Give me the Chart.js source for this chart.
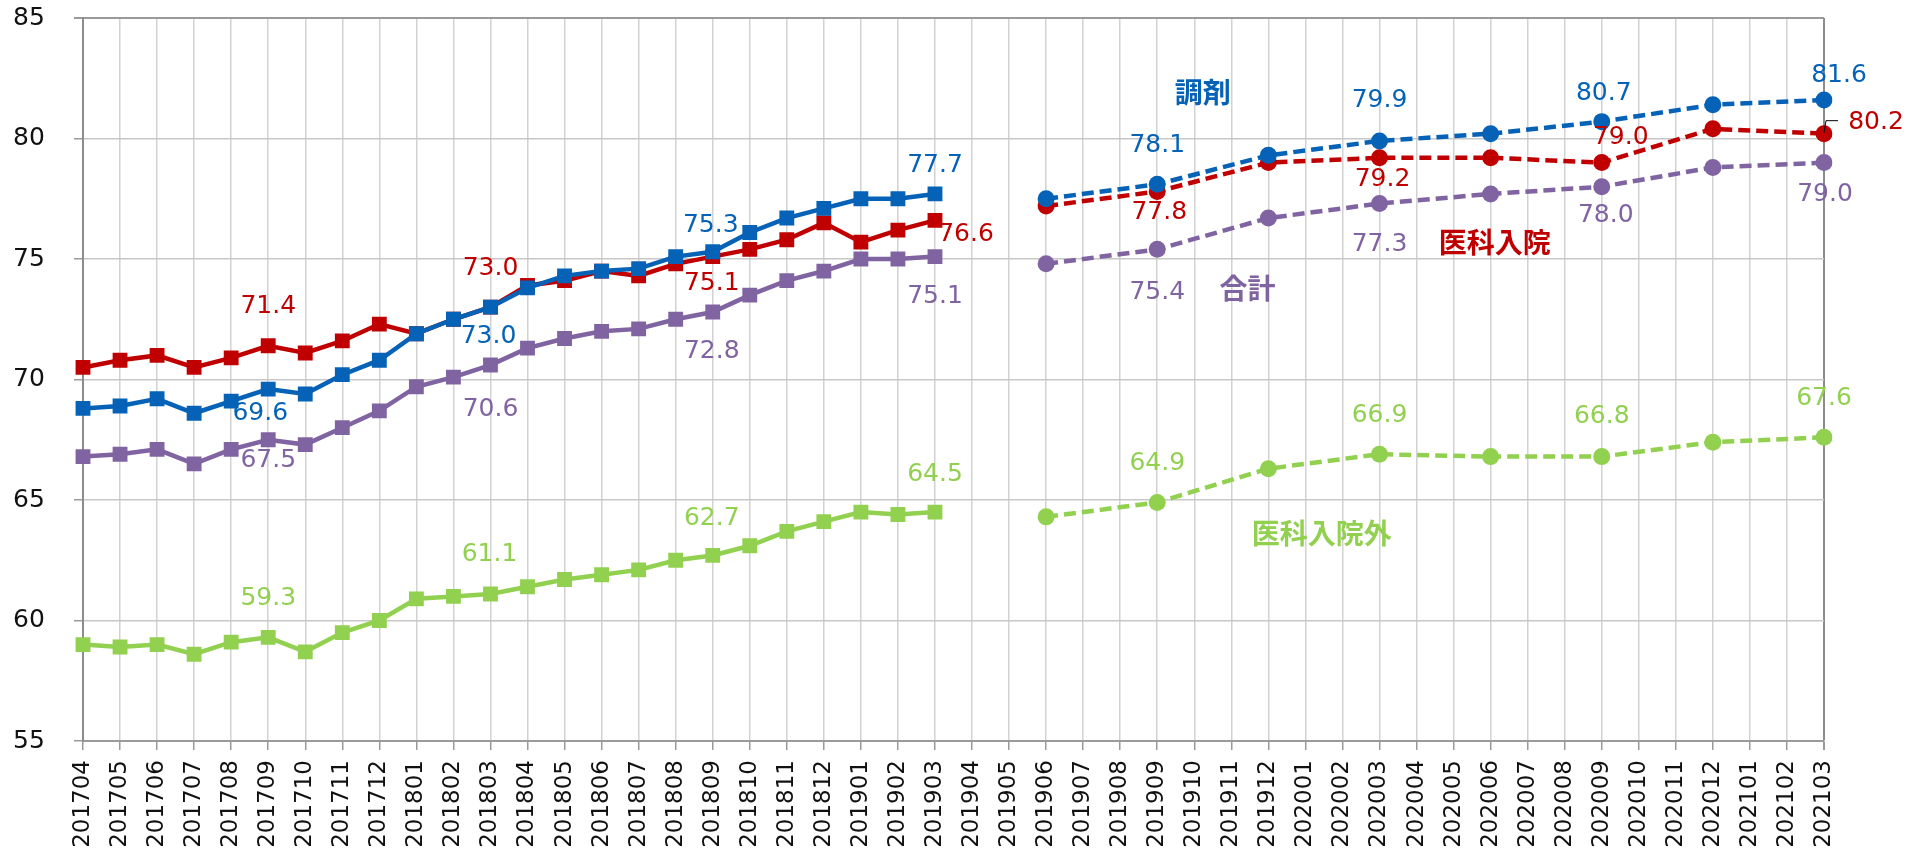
<!DOCTYPE html>
<html lang="ja">
<head>
<meta charset="utf-8">
<title>調剤・医科入院・医科入院外・合計</title>
<script src="https://cdn.jsdelivr.net/npm/chart.js@4/dist/chart.umd.min.js"></script>
<style>
  html, body { margin: 0; padding: 0; background: #fff; }
  #wrap { width: 1920px; height: 849px; position: relative; }
</style>
</head>
<body>
<div id="wrap"><canvas id="grafico"></canvas></div>
<script>
// ---- datos ----
const categories = [
  '201704','201705','201706','201707','201708','201709','201710','201711','201712',
  '201801','201802','201803','201804','201805','201806','201807','201808','201809',
  '201810','201811','201812','201901','201902','201903','201904','201905','201906',
  '201907','201908','201909','201910','201911','201912','202001','202002','202003',
  '202004','202005','202006','202007','202008','202009','202010','202011','202012',
  '202101','202102','202103'
];
const yTicks = [55, 60, 65, 70, 75, 80, 85];

// monthly series, 201704 .. 201903
const chozaiMonthly = [68.8, 68.9, 69.2, 68.6, 69.1, 69.6, 69.4, 70.2, 70.8, 71.9, 72.5, 73.0,
                       73.8, 74.3, 74.5, 74.6, 75.1, 75.3, 76.1, 76.7, 77.1, 77.5, 77.5, 77.7];
const nyuinMonthly  = [70.5, 70.8, 71.0, 70.5, 70.9, 71.4, 71.1, 71.6, 72.3, 71.9, 72.5, 73.0,
                       73.9, 74.1, 74.5, 74.3, 74.8, 75.1, 75.4, 75.8, 76.5, 75.7, 76.2, 76.6];
const goukeiMonthly = [66.8, 66.9, 67.1, 66.5, 67.1, 67.5, 67.3, 68.0, 68.7, 69.7, 70.1, 70.6,
                       71.3, 71.7, 72.0, 72.1, 72.5, 72.8, 73.5, 74.1, 74.5, 75.0, 75.0, 75.1];
const gairaiMonthly = [59.0, 58.9, 59.0, 58.6, 59.1, 59.3, 58.7, 59.5, 60.0, 60.9, 61.0, 61.1,
                       61.4, 61.7, 61.9, 62.1, 62.5, 62.7, 63.1, 63.7, 64.1, 64.5, 64.4, 64.5];

// quarterly series
const quarterMonths    = ['201906','201909','201912','202003','202006','202009','202012','202103'];
const chozaiQuarterly  = [77.5, 78.1, 79.3, 79.9, 80.2, 80.7, 81.4, 81.6];
const nyuinQuarterly   = [77.2, 77.8, 79.0, 79.2, 79.2, 79.0, 80.4, 80.2];
const goukeiQuarterly  = [74.8, 75.4, 76.7, 77.3, 77.7, 78.0, 78.8, 79.0];
const gairaiQuarterly  = [64.3, 64.9, 66.3, 66.9, 66.8, 66.8, 67.4, 67.6];

// months that carry a value label
const labelMonths = ['201709','201803','201809','201903','201909','202003','202009','202103'];

// ---- estilo ----
const SERIES = [
  { name: '調剤',       color: '#0562B6', monthly: chozaiMonthly, quarterly: chozaiQuarterly,
    offsets: [[-8,24],[-2,29],[-2,-26],[0,-28],[0,-39],[0,-40],[2,-28],[15,-24]] },
  { name: '医科入院',   color: '#C00000', monthly: nyuinMonthly,  quarterly: nyuinQuarterly,
    offsets: [[0,-39],[0,-39],[-1,27],[31,14],[2,21],[3,22],[19,-25],[52,-11]] },
  { name: '合計',       color: '#8064A2', monthly: goukeiMonthly, quarterly: goukeiQuarterly,
    offsets: [[0,21],[0,44],[-1,39],[0,40],[0,43],[0,41],[4,29],[1,32]] },
  { name: '医科入院外', color: '#92D050', monthly: gairaiMonthly, quarterly: gairaiQuarterly,
    offsets: [[0,-39],[-1,-39],[-1,-37],[0,-38],[0,-39],[0,-39],[0,-40],[0,-39]] }
];

// series name tags, placed in chart coordinates (category position, value)
const nameTags = [
  { text: '調剤',       series: 0, at: 30.23, value: 81.9 },
  { text: '医科入院',   series: 1, at: 38.11, value: 75.67 },
  { text: '合計',       series: 2, at: 31.44, value: 73.8 },
  { text: '医科入院外', series: 3, at: 33.44, value: 63.6 }
];

const NUM_FONT = '"DejaVu Sans", Verdana, sans-serif';
const JP_FONT = '"Noto Sans CJK JP", "Noto Sans", sans-serif';

function monthlyData(values) {
  return categories.map((c, i) => (i < values.length ? values[i] : null));
}

function quarterlyData(values) {
  return categories.map(c => {
    const k = quarterMonths.indexOf(c);
    return k >= 0 ? values[k] : null;
  });
}

function valueAt(serie, month) {
  const i = categories.indexOf(month);
  if (i < serie.monthly.length) return serie.monthly[i];
  const k = quarterMonths.indexOf(month);
  return k >= 0 ? serie.quarterly[k] : null;
}

const datasets = [];
SERIES.forEach((s, n) => {
  datasets.push({
    label: s.name,
    data: monthlyData(s.monthly),
    borderColor: s.color,
    backgroundColor: s.color,
    borderWidth: 4.5,
    pointStyle: 'rect',
    pointRadius: 10.5,
    pointHoverRadius: 10.5,
    pointBorderWidth: 0,
    tension: 0,
    spanGaps: false,
    order: n
  });
  datasets.push({
    label: s.name + '（四半期）',
    data: quarterlyData(s.quarterly),
    borderColor: s.color,
    backgroundColor: s.color,
    borderWidth: 4.5,
    borderDash: [12, 6],
    pointStyle: 'circle',
    pointRadius: 8.5,
    pointHoverRadius: 8.5,
    pointBorderWidth: 0,
    tension: 0,
    spanGaps: true,
    order: n
  });
});

// plugin for value labels and name tags
const etiquetas = {
  id: 'etiquetas',
  afterDatasetsDraw(chart) {
    const ctx = chart.ctx;
    const xs = chart.scales.x;
    const ys = chart.scales.y;
    ctx.save();
    ctx.textAlign = 'center';
    ctx.textBaseline = 'middle';
    ctx.font = '25px ' + NUM_FONT;
    SERIES.forEach(s => {
      ctx.fillStyle = s.color;
      labelMonths.forEach((m, j) => {
        const v = valueAt(s, m);
        if (v === null) return;
        const x = xs.getPixelForValue(categories.indexOf(m));
        const y = ys.getPixelForValue(v);
        const off = s.offsets[j];
        ctx.fillText(v.toFixed(1), x + off[0], y + off[1]);
      });
    });

    // leader line for the last 医科入院 label
    const last = labelMonths[labelMonths.length - 1];
    const lx = xs.getPixelForValue(categories.indexOf(last));
    const ly = ys.getPixelForValue(valueAt(SERIES[1], last));
    ctx.strokeStyle = '#000';
    ctx.lineWidth = 1;
    ctx.beginPath();
    ctx.moveTo(lx, ly - 1);
    ctx.lineTo(lx + 2, ly - 13);
    ctx.lineTo(lx + 14, ly - 13);
    ctx.stroke();

    ctx.font = 'bold 28px ' + JP_FONT;
    nameTags.forEach(t => {
      ctx.fillStyle = SERIES[t.series].color;
      ctx.fillText(t.text, xs.getPixelForValue(t.at), ys.getPixelForValue(t.value));
    });
    ctx.restore();
  }
};

const ctx = document.getElementById('grafico').getContext('2d');
const grafico = new Chart(ctx, {
  type: 'line',
  data: { labels: categories, datasets: datasets },
  options: {
    responsive: true,
    maintainAspectRatio: false,
    animation: false,
    layout: { padding: { top: 18, right: 96, bottom: 0, left: 13 } },
    plugins: {
      legend: { display: false },
      tooltip: { enabled: false }
    },
    scales: {
      x: {
        type: 'category',
        offset: false,
        afterFit: scale => { scale.height = 108; },
        ticks: {
          autoSkip: false,
          minRotation: 90,
          maxRotation: 90,
          padding: 10,
          color: '#111',
          font: { family: NUM_FONT, size: 23 }
        },
        grid: {
          color: c => (c.index === categories.length - 1 ? '#8c8c8c' : '#d2d2d2'),
          lineWidth: c => (c.index === categories.length - 1 ? 2 : 1.5),
          drawTicks: true,
          tickLength: 9,
          tickColor: '#9a9a9a'
        },
        border: { color: '#9a9a9a', width: 2 }
      },
      y: {
        min: yTicks[0],
        max: yTicks[yTicks.length - 1],
        afterFit: scale => { scale.width = 70; },
        afterBuildTicks: scale => { scale.ticks = yTicks.map(v => ({ value: v })); },
        ticks: {
          padding: 3,
          crossAlign: 'far',
          color: '#111',
          font: { family: NUM_FONT, size: 25 }
        },
        grid: {
          color: c => (c.tick && c.tick.value === 85 ? '#9a9a9a' : '#c8c8c8'),
          lineWidth: c => (c.tick && c.tick.value === 85 ? 2 : 1.5),
          drawTicks: true,
          tickLength: 9,
          tickColor: '#9a9a9a'
        },
        border: { color: '#8c8c8c', width: 2 }
      }
    }
  },
  plugins: [etiquetas]
});
</script>
</body>
</html>
